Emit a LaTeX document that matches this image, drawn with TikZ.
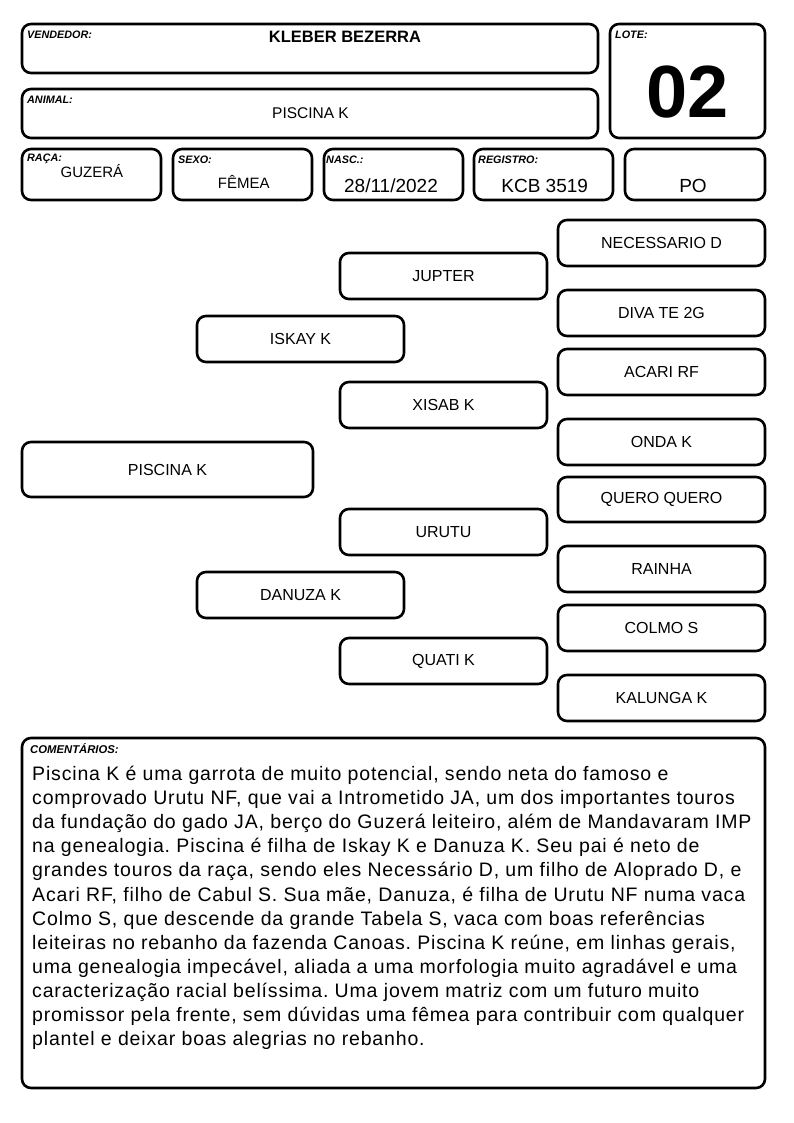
\documentclass[tikz,border=0pt]{standalone}
\usepackage{fontspec}
\setmainfont{Liberation Sans}
\newfontfamily\comfont[LetterSpace=4.3]{Liberation Sans}
\frenchspacing
\newcommand\frbox[5]{\node[box, minimum width={#4-#2}, minimum height={#5-#3}] (#1) at ({(#2+#4)/2},{(#3+#5)/2}) {};}
\newcommand\pbox[6]{\node[box, pedtext, minimum width={#4-#2}, minimum height={#5-#3}] (#1) at ({(#2+#4)/2},{(#3+#5)/2}) {#6};}
\begin{document}
\begin{tikzpicture}[x=1pt,y=-1pt,
  box/.style={draw, line width=2.6pt, rounded corners=9pt, inner sep=0pt},
  lbl/.style={font=\fontsize{10.8}{12}\selectfont\bfseries\itshape, anchor=base west, inner sep=0pt},
  val/.style={font=\fontsize{15}{18}\selectfont, anchor=base, inner sep=0pt},
  bigval/.style={font=\fontsize{19}{22}\selectfont, anchor=base, inner sep=0pt},
  pedtext/.style={font=\fontsize{16}{18}\selectfont}]
\useasboundingbox (0,0) rectangle (794,1123);
% header boxes
\frbox{vend}{22}{24}{598}{73}
\frbox{anim}{22}{89}{598}{138}
\frbox{lote}{610}{24}{765}{138}
\frbox{raca}{22}{149}{161}{200}
\frbox{sexo}{173}{149}{312}{200}
\frbox{nasc}{324}{149}{463}{200}
\frbox{regi}{474}{149}{613}{200}
\frbox{po}{625}{149}{765}{200}
\node[lbl] (lvend) at (27,39) {VENDEDOR:};
\node[lbl] (lanim) at (27,104) {ANIMAL:};
\node[lbl] (llote) at (615,39) {LOTE:};
\node[lbl] (lraca) at (27,162) {RAÇA:};
\node[lbl] (lsexo) at (178,164) {SEXO:};
\node[lbl] (lnasc) at (326,164) {NASC.:};
\node[lbl] (lregi) at (478,164) {REGISTRO:};
\node[val, font=\fontsize{16.5}{18}\selectfont\bfseries] (tvend) at (345,42.7) {KLEBER BEZERRA};
\node[val, font=\fontsize{15.5}{18}\selectfont] (tanim) at (310.5,119) {PISCINA K};
\node[anchor=base, inner sep=0pt, font=\fontsize{74}{80}\selectfont\bfseries] (tlote) at (687.5,118) {02};
\node[val] (traca) at (92,178) {GUZERÁ};
\node[val] (tsexo) at (243.7,189) {FÊMEA};
\node[bigval] (tnasc) at (391,193) {28/11/2022};
\node[bigval] (tregi) at (544.7,193) {KCB 3519};
\node[bigval] (tpo) at (693,193) {PO};
% pedigree
\pbox{p0}{22}{442}{313}{497}{PISCINA K}
\pbox{p1}{197}{316}{404}{362}{ISKAY K}
\pbox{p2}{197}{572}{404}{618}{DANUZA K}
\pbox{p11}{340}{253}{547}{299}{JUPTER}
\pbox{p12}{340}{382}{547}{428}{XISAB K}
\pbox{p21}{340}{509}{547}{555}{URUTU}
\pbox{p22}{340}{638}{547}{684}{QUATI K}
\pbox{g1}{558}{220}{765}{266}{NECESSARIO D}
\pbox{g2}{558}{290}{765}{336}{DIVA TE 2G}
\pbox{g3}{558}{349}{765}{395}{ACARI RF}
\pbox{g4}{558}{419}{765}{465}{ONDA K}
\pbox{g5}{558}{477}{765}{522}{QUERO QUERO}
\pbox{g6}{558}{546}{765}{592}{RAINHA}
\pbox{g7}{558}{605}{765}{651}{COLMO S}
\pbox{g8}{558}{675}{765}{721}{KALUNGA K}
% comments
\frbox{com}{22}{738}{765}{1088}
\node[lbl, font=\fontsize{11.3}{13}\selectfont\bfseries\itshape] (lcom) at (30,753) {COMENTÁRIOS:};
\node[anchor=north west, align=left, inner sep=0pt, font=\comfont\fontsize{19.5}{24.1}\selectfont] (tcom) at (32,766) {Piscina K é uma garrota de muito potencial, sendo neta do famoso e\\
comprovado Urutu NF, que vai a Intrometido JA, um dos importantes touros\\
da fundação do gado JA, berço do Guzerá leiteiro, além de Mandavaram IMP\\
na genealogia. Piscina é filha de Iskay K e Danuza K. Seu pai é neto de\\
grandes touros da raça, sendo eles Necessário D, um filho de Aloprado D, e\\
Acari RF, filho de Cabul S. Sua mãe, Danuza, é filha de Urutu NF numa vaca\\
Colmo S, que descende da grande Tabela S, vaca com boas referências\\
leiteiras no rebanho da fazenda Canoas. Piscina K reúne, em linhas gerais,\\
uma genealogia impecável, aliada a uma morfologia muito agradável e uma\\
caracterização racial belíssima. Uma jovem matriz com um futuro muito\\
promissor pela frente, sem dúvidas uma fêmea para contribuir com qualquer\\
plantel e deixar boas alegrias no rebanho.};
\end{tikzpicture}
\end{document}
